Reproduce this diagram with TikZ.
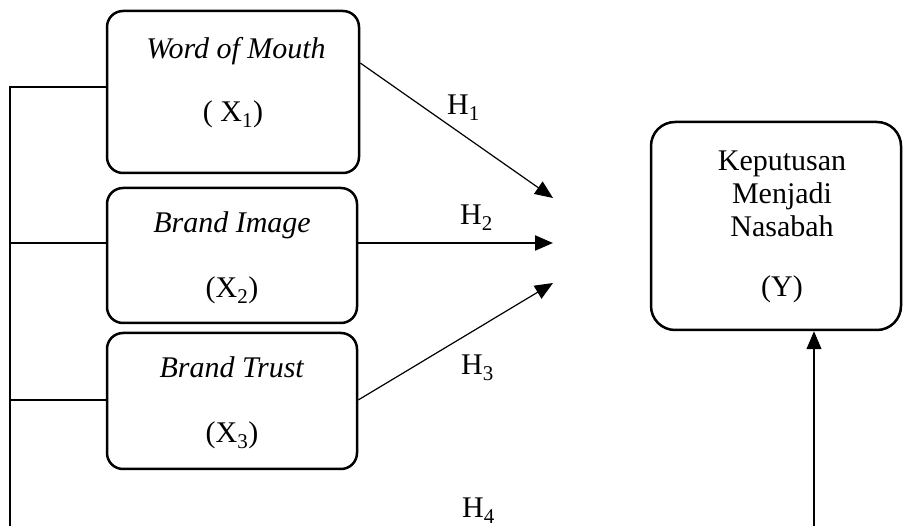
\documentclass[tikz,border=0pt]{standalone}
\usepackage{fontspec}
\setmainfont{Liberation Serif}
\usetikzlibrary{arrows.meta}
\begin{document}
\begin{tikzpicture}[x=1pt,y=-1pt,
  box/.style={draw, line width=2.5pt, rounded corners=16pt, inner sep=0pt},
  txt/.style={font=\fontsize{30}{28}\selectfont, inner sep=0pt, anchor=base},
  conn/.style={line width=1.2pt},
  arr/.style={conn, -{Triangle[length=18pt,width=15pt]}},
]
\useasboundingbox (0,0) rectangle (903,526);
% boxes
\node[box, minimum width=252pt, minimum height=162pt] (b1) at (233,92) {};
\node[box, minimum width=250pt, minimum height=135pt] (b2) at (232,255.5) {};
\node[box, minimum width=250pt, minimum height=136pt] (b3) at (232,401) {};
\node[box, rounded corners=24pt, minimum width=250pt, minimum height=208pt] (by) at (776,226) {};
% box texts
\node[txt] (t1a) at (236,59) {\textit{Word of Mouth}};
\node[txt] (t1b) at (233,122) {( X\textsubscript{1})};
\node[txt] (t2a) at (232,233) {\textit{Brand Image}};
\node[txt] (t2b) at (232,298) {(X\textsubscript{2})};
\node[txt] (t3a) at (232,378) {\textit{Brand Trust}};
\node[txt] (t3b) at (232,443) {(X\textsubscript{3})};
\node[txt] (ya) at (782,171) {Keputusan};
\node[txt] (yb) at (782,204) {Menjadi};
\node[txt] (yc) at (782,237) {Nasabah};
\node[txt] (yd) at (782,297) {(Y)};
% H labels
\node[txt, anchor=base west] (h1) at (447,115) {H\textsubscript{1}};
\node[txt, anchor=base west] (h2) at (460,225) {H\textsubscript{2}};
\node[txt, anchor=base west] (h3) at (461,375) {H\textsubscript{3}};
\node[txt, anchor=base west] (h4) at (462,518) {H\textsubscript{4}};
% left bracket
\coordinate (L1) at (10,87);
\coordinate (L2) at (10,243);
\coordinate (L3) at (10,400);
\coordinate (Lb) at (10,527);
\draw[conn] (Lb) -- (L1) -- (L1 -| b1.west);
\draw[conn] (L2) -- (L2 -| b2.west);
\draw[conn] (L3) -- (L3 -| b3.west);
% arrows
\coordinate (e1) at (553,198);
\coordinate (e2) at (553,243);
\coordinate (e3) at (553,283);
\draw[arr] (b1.east |- 0,63) -- (e1);
\draw[arr, line width=2.2pt] (b2.east |- e2) -- (e2);
\draw[arr] (b3.east |- L3) -- (e3);
\coordinate (vb) at (814,527);
\draw[arr] (vb) -- (vb |- by.south);
\end{tikzpicture}
\end{document}
